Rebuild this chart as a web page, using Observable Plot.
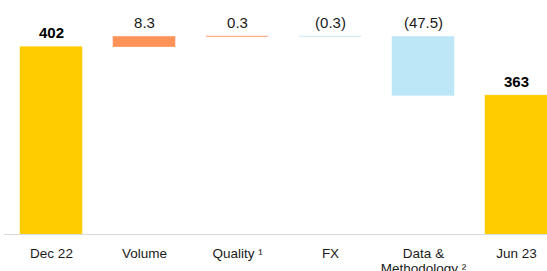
<!DOCTYPE html>
<html>
<head>
<meta charset="utf-8">
<script src="https://cdn.jsdelivr.net/npm/d3@7"></script>
<script src="https://cdn.jsdelivr.net/npm/@observablehq/plot@0.6"></script>
<style>
  html, body { margin: 0; padding: 0; background: #fff; }
  #chart svg { display: block; }
</style>
</head>
<body>
<div id="chart"></div>
<script>
const categories = ["Dec 22", "Volume", "Quality", "FX", "Data & Methodology", "Jun 23"];
const values = [402, 8.3, 0.3, -0.3, -47.5, 363];
const kinds = ["total", "delta", "delta", "delta", "delta", "total"];
const valueLabels = ["402", "8.3", "0.3", "(0.3)", "(47.5)", "363"];
const tickLabels = ["Dec 22", "Volume", "Quality \u00b9", "FX", "Data &\nMethodology \u00b2", "Jun 23"];

const yFloor = 251;   // truncated axis start
const yCeil = 439.7;

let running = 0;
const rows = categories.map((c, i) => {
  let y1, y2, type;
  if (kinds[i] === "total") {
    y1 = yFloor; y2 = values[i]; running = values[i]; type = "total";
  } else {
    y1 = running; y2 = running + values[i]; running = y2;
    type = values[i] >= 0 ? "up" : "down";
  }
  return {cat: c, y1, y2, top: Math.max(y1, y2), type, label: valueLabels[i], bold: kinds[i] === "total"};
});

const tickMap = new Map(categories.map((c, i) => [c, tickLabels[i]]));
const colorMap = {total: "#FFCC00", up: "#FF9257", down: "#BDE6F6"};

const chart = Plot.plot({
  width: 547,
  height: 271,
  marginTop: 0,
  marginBottom: 37,
  marginLeft: 4,
  marginRight: 0,
  style: {fontFamily: "'Liberation Sans', Arial, sans-serif", background: "#fff"},
  x: {domain: categories, range: [20, 547], paddingInner: 1/3, paddingOuter: 0, axis: null},
  y: {domain: [yFloor, yCeil], axis: null},
  marks: [
    Plot.barY(rows, {x: "cat", y1: "y1", y2: "y2", fill: d => colorMap[d.type], stroke: d => colorMap[d.type], strokeWidth: 0.5}),
    Plot.ruleY([yFloor], {stroke: "#d9d9d9", strokeWidth: 1}),
    Plot.text(rows.filter(d => !d.bold), {x: "cat", y: "top", text: "label", lineAnchor: "bottom", dy: -9, fontSize: 15, fill: "#1a1a1a"}),
    Plot.text(rows.filter(d => d.bold), {x: "cat", y: "top", text: "label", lineAnchor: "bottom", dy: -9, fontSize: 15, fontWeight: "bold", fill: "#000"}),
    Plot.axisX({label: null, tickSize: 0, tickPadding: 13, fontSize: 13.5, tickFormat: d => tickMap.get(d), lineHeight: 1.1, fill: "#1a1a1a"})
  ]
});
document.getElementById("chart").appendChild(chart);
</script>
</body>
</html>
